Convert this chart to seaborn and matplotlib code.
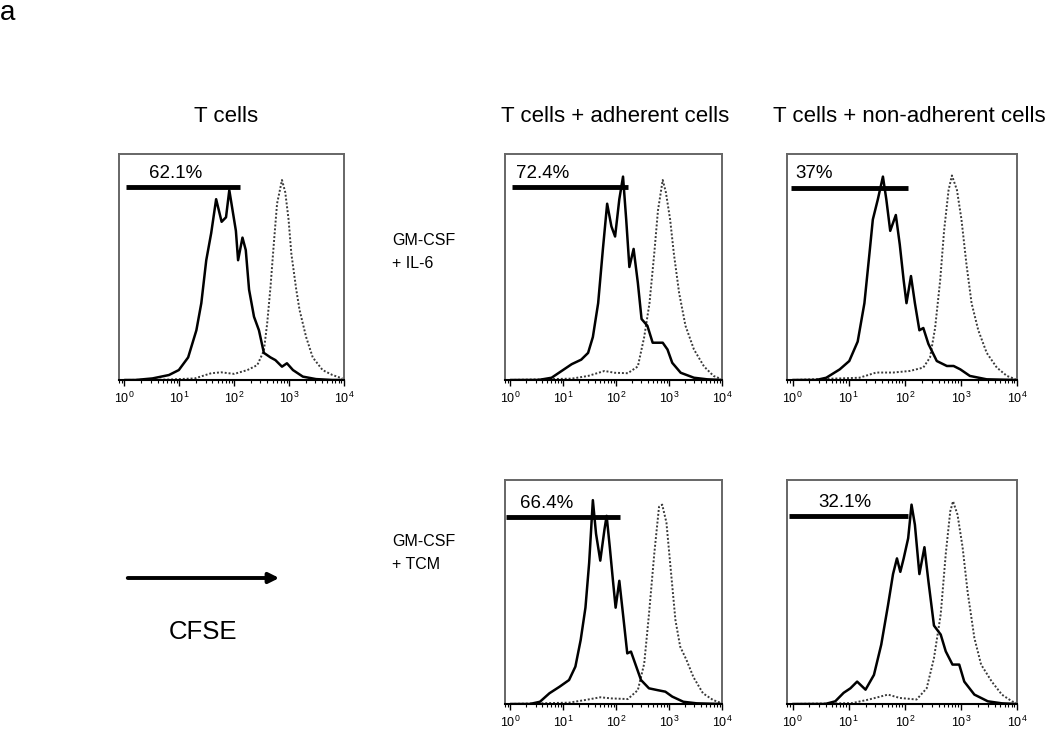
import numpy as np
import pandas as pd
import matplotlib
matplotlib.use("Agg")
import matplotlib.pyplot as plt
from matplotlib.patches import FancyArrowPatch
from matplotlib.ticker import LogLocator
import seaborn as sns

# CFSE histograms, x = log10(CFSE intensity), y = relative cell count
# solid = stimulated T cells, dotted = unstimulated control
p1_solid_x = [0.0, 0.2, 0.51, 0.81, 0.99, 1.16, 1.31, 1.40, 1.49, 1.58, 1.67, 1.73, 1.77, 1.85, 1.91, 1.97, 2.03, 2.07, 2.15, 2.21, 2.27, 2.36, 2.45, 2.54, 2.66, 2.75, 2.87, 2.96, 3.07, 3.25, 3.49, 3.79, 4.0]
p1_solid_y = [0.0, 0.0, 0.007, 0.022, 0.044, 0.10, 0.22, 0.34, 0.53, 0.65, 0.80, 0.74, 0.70, 0.72, 0.84, 0.75, 0.66, 0.53, 0.63, 0.575, 0.40, 0.28, 0.22, 0.12, 0.10, 0.088, 0.059, 0.074, 0.044, 0.015, 0.004, 0.0, 0.0]
p1_ctrl_x = [0.0, 0.8, 1.28, 1.58, 1.76, 2.0, 2.24, 2.42, 2.54, 2.60, 2.66, 2.72, 2.78, 2.87, 2.93, 2.99, 3.04, 3.13, 3.19, 3.31, 3.43, 3.61, 3.79, 3.97]
p1_ctrl_y = [0.0, 0.002, 0.007, 0.03, 0.034, 0.027, 0.044, 0.066, 0.13, 0.25, 0.41, 0.60, 0.78, 0.885, 0.83, 0.71, 0.56, 0.40, 0.31, 0.19, 0.10, 0.044, 0.022, 0.007]

p2_solid_x = [0.0, 0.53, 0.78, 0.97, 1.16, 1.34, 1.47, 1.56, 1.66, 1.75, 1.83, 1.91, 1.98, 2.06, 2.13, 2.19, 2.25, 2.33, 2.41, 2.48, 2.59, 2.69, 2.78, 2.88, 2.97, 3.06, 3.22, 3.47, 3.72, 4.0]
p2_solid_y = [0.0, 0.0, 0.01, 0.04, 0.07, 0.09, 0.12, 0.19, 0.34, 0.58, 0.78, 0.68, 0.635, 0.80, 0.90, 0.71, 0.50, 0.58, 0.43, 0.27, 0.24, 0.165, 0.165, 0.165, 0.135, 0.076, 0.032, 0.01, 0.003, 0.0]
p2_ctrl_x = [0.0, 1.16, 1.47, 1.78, 1.97, 2.22, 2.41, 2.53, 2.63, 2.72, 2.79, 2.88, 2.94, 3.02, 3.09, 3.19, 3.31, 3.47, 3.66, 3.84, 4.0]
p2_ctrl_y = [0.0, 0.006, 0.018, 0.04, 0.032, 0.03, 0.06, 0.19, 0.34, 0.56, 0.75, 0.885, 0.83, 0.71, 0.56, 0.385, 0.24, 0.135, 0.06, 0.018, 0.003]

p3_solid_x = [0.0, 0.42, 0.60, 0.84, 1.01, 1.16, 1.28, 1.37, 1.43, 1.52, 1.61, 1.67, 1.74, 1.84, 1.91, 1.98, 2.03, 2.11, 2.18, 2.26, 2.33, 2.42, 2.57, 2.75, 2.87, 2.99, 3.16, 3.46, 4.0]
p3_solid_y = [0.0, 0.0, 0.01, 0.047, 0.084, 0.17, 0.34, 0.56, 0.71, 0.80, 0.90, 0.80, 0.66, 0.73, 0.60, 0.44, 0.34, 0.46, 0.34, 0.22, 0.23, 0.16, 0.084, 0.062, 0.062, 0.047, 0.018, 0.003, 0.0]
p3_ctrl_x = [0.0, 1.19, 1.49, 1.79, 2.09, 2.33, 2.45, 2.54, 2.63, 2.70, 2.78, 2.84, 2.93, 3.01, 3.10, 3.19, 3.31, 3.46, 3.64, 3.82, 3.97]
p3_ctrl_y = [0.0, 0.01, 0.033, 0.033, 0.04, 0.055, 0.10, 0.23, 0.44, 0.66, 0.84, 0.905, 0.84, 0.71, 0.51, 0.34, 0.22, 0.12, 0.055, 0.018, 0.004]

p4_solid_x = [0.0, 0.37, 0.56, 0.74, 0.93, 1.11, 1.23, 1.33, 1.42, 1.49, 1.56, 1.62, 1.70, 1.78, 1.82, 1.88, 1.94, 1.99, 2.06, 2.13, 2.21, 2.28, 2.38, 2.47, 2.62, 2.78, 2.93, 3.06, 3.27, 3.52, 4.0]
p4_solid_y = [0.0, 0.0, 0.01, 0.048, 0.077, 0.107, 0.167, 0.286, 0.43, 0.63, 0.91, 0.76, 0.64, 0.78, 0.84, 0.70, 0.55, 0.43, 0.55, 0.40, 0.226, 0.234, 0.167, 0.107, 0.07, 0.062, 0.055, 0.033, 0.01, 0.003, 0.0]
p4_ctrl_x = [0.0, 1.11, 1.42, 1.70, 1.91, 2.22, 2.41, 2.53, 2.62, 2.72, 2.81, 2.87, 2.95, 3.02, 3.12, 3.21, 3.33, 3.46, 3.64, 3.83, 4.0]
p4_ctrl_y = [0.0, 0.006, 0.018, 0.03, 0.025, 0.022, 0.062, 0.18, 0.40, 0.67, 0.88, 0.89, 0.81, 0.63, 0.375, 0.256, 0.196, 0.12, 0.048, 0.018, 0.003]

p5_solid_x = [0.0, 0.58, 0.76, 0.91, 1.03, 1.15, 1.30, 1.45, 1.58, 1.70, 1.79, 1.86, 1.92, 1.98, 2.06, 2.12, 2.18, 2.26, 2.35, 2.42, 2.52, 2.64, 2.73, 2.85, 2.97, 3.06, 3.24, 3.48, 3.73, 4.0]
p5_solid_y = [0.0, 0.0, 0.012, 0.05, 0.07, 0.10, 0.064, 0.13, 0.265, 0.44, 0.58, 0.65, 0.59, 0.65, 0.74, 0.89, 0.80, 0.58, 0.70, 0.55, 0.35, 0.31, 0.235, 0.176, 0.176, 0.10, 0.042, 0.012, 0.003, 0.0]
p5_ctrl_x = [0.0, 1.06, 1.36, 1.70, 1.91, 2.21, 2.39, 2.52, 2.64, 2.73, 2.81, 2.86, 2.94, 3.03, 3.12, 3.24, 3.36, 3.55, 3.73, 3.91, 4.0]
p5_ctrl_y = [0.0, 0.004, 0.02, 0.042, 0.027, 0.02, 0.07, 0.205, 0.40, 0.67, 0.86, 0.905, 0.845, 0.70, 0.50, 0.295, 0.176, 0.10, 0.042, 0.012, 0.004]

# gates: log10 range, height, label
gate_lo = [0.02, 0.04, -0.03, -0.09, -0.06]
gate_hi = [2.11, 2.23, 2.06, 2.07, 2.06]
gate_y = [0.853, 0.853, 0.85, 0.833, 0.838]
gate_labels = ["62.1%", "72.4%", "37%", "66.4%", "32.1%"]
label_x = [0.45, 0.10, 0.05, 0.185, 0.45]
label_y = [0.915, 0.915, 0.915, 0.895, 0.90]

col_titles = ["T cells", "T cells + adherent cells", "T cells + non-adherent cells"]
row_labels = ["GM-CSF\n+ IL-6", "GM-CSF\n+ TCM"]

sns.set_style("white")
plt.rcParams["font.family"] = ["Liberation Sans", "DejaVu Sans"]
plt.rcParams["mathtext.fontset"] = "custom"
plt.rcParams["mathtext.rm"] = "Liberation Sans"
plt.rcParams["mathtext.it"] = "Liberation Sans:italic"
plt.rcParams["text.color"] = "black"
plt.rcParams["xtick.color"] = "black"

W, H = 1050, 730
fig = plt.figure(figsize=(W / 100, H / 100), dpi=100)

# panel boxes in pixels: left, right, top, bottom
boxes = [(119, 344, 154, 380), (505, 722, 154, 380), (787, 1017, 154, 380),
         (505, 722, 480, 704), (787, 1017, 480, 704)]
curves = [(p1_solid_x, p1_solid_y, p1_ctrl_x, p1_ctrl_y),
          (p2_solid_x, p2_solid_y, p2_ctrl_x, p2_ctrl_y),
          (p3_solid_x, p3_solid_y, p3_ctrl_x, p3_ctrl_y),
          (p4_solid_x, p4_solid_y, p4_ctrl_x, p4_ctrl_y),
          (p5_solid_x, p5_solid_y, p5_ctrl_x, p5_ctrl_y)]

for i, (l, r, t, b) in enumerate(boxes):
    ax = fig.add_axes([l / W, 1 - b / H, (r - l) / W, (b - t) / H])
    sx, sy, cx, cy = curves[i]
    ctrl = pd.DataFrame({"cfse": 10 ** np.array(cx), "count": cy})
    stim = pd.DataFrame({"cfse": 10 ** np.array(sx), "count": sy})
    sns.lineplot(data=ctrl, x="cfse", y="count", ax=ax, color="#3a3a3a",
                 lw=1.4, linestyle=(0, (1, 1)))
    sns.lineplot(data=stim, x="cfse", y="count", ax=ax, color="black", lw=1.8)

    ax.plot([10 ** gate_lo[i], 10 ** gate_hi[i]], [gate_y[i]] * 2,
            color="black", lw=3.5, solid_capstyle="butt")
    ax.text(10 ** label_x[i], label_y[i], gate_labels[i], fontsize=13.5,
            ha="left", va="center")

    ax.set_xscale("log")
    ax.set_xlim(10 ** -0.1, 1e4)
    ax.set_ylim(0, 1)
    ax.set_xticks([1, 10, 100, 1000, 10000])
    ax.xaxis.set_minor_locator(LogLocator(base=10, subs=np.arange(2, 10)))
    ax.set_yticks([])
    ax.set_xlabel("")
    ax.set_ylabel("")
    ax.tick_params(axis="x", which="major", direction="out", length=4,
                   width=1, labelsize=9, pad=4, bottom=True)
    ax.tick_params(axis="x", which="minor", direction="out", length=2.5,
                   width=0.8, bottom=True)
    for side in ["left", "right", "top"]:
        ax.spines[side].set_color("#666666")
        ax.spines[side].set_linewidth(1.4)
    ax.spines["bottom"].set_color("black")
    ax.spines["bottom"].set_linewidth(1.5)

# column titles
fig.text(226 / W, 1 - 116 / H, col_titles[0], fontsize=16, ha="center", va="center")
fig.text(615 / W, 1 - 116 / H, col_titles[1], fontsize=16, ha="center", va="center")
fig.text(909 / W, 1 - 116 / H, col_titles[2], fontsize=16, ha="center", va="center")

# row labels
fig.text(392 / W, 1 - 252 / H, row_labels[0], fontsize=11.5, ha="left", va="center",
         linespacing=1.6)
fig.text(392 / W, 1 - 553 / H, row_labels[1], fontsize=11.5, ha="left", va="center",
         linespacing=1.6)

fig.text(0 / W, 1 - 0 / H, "a", fontsize=20, ha="left", va="top")

# CFSE arrow
arrow = FancyArrowPatch((125 / W, 1 - 578 / H), (282 / W, 1 - 578 / H),
                        transform=fig.transFigure, arrowstyle="-|>",
                        mutation_scale=15, lw=2.8, color="black")
fig.patches.append(arrow)
fig.text(203 / W, 1 - 632 / H, "CFSE", fontsize=18.5, ha="center", va="center")

fig.savefig("out.png", dpi=100)
